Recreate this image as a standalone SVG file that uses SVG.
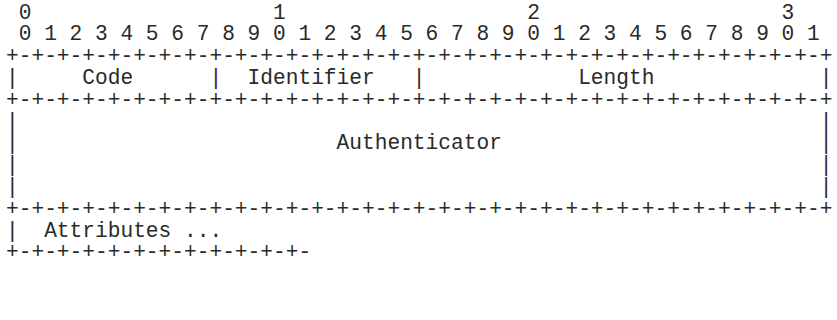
<svg xmlns="http://www.w3.org/2000/svg" width="837" height="320" viewBox="0 0 837 320">
<style>
  text { font-family: "Liberation Mono", "DejaVu Sans Mono", monospace; font-size: 21.2px; fill: #2a2a2a; white-space: pre; }
</style>
<rect width="837" height="320" fill="#ffffff"/>
<g id="bit-ruler">
  <text x="6" y="18.5" xml:space="preserve"> 0                   1                   2                   3</text>
  <text x="6" y="40.3" xml:space="preserve"> 0 1 2 3 4 5 6 7 8 9 0 1 2 3 4 5 6 7 8 9 0 1 2 3 4 5 6 7 8 9 0 1</text>
</g>
<g id="header-row">
  <text x="6" y="62.1" xml:space="preserve">+-+-+-+-+-+-+-+-+-+-+-+-+-+-+-+-+-+-+-+-+-+-+-+-+-+-+-+-+-+-+-+-+</text>
  <text x="6" y="83.9" xml:space="preserve">|     Code      |  Identifier   |            Length             |</text>
  <text x="6" y="105.7" xml:space="preserve">+-+-+-+-+-+-+-+-+-+-+-+-+-+-+-+-+-+-+-+-+-+-+-+-+-+-+-+-+-+-+-+-+</text>
</g>
<g id="authenticator">
  <text x="6" y="127.5" xml:space="preserve">|                                                               |</text>
  <text x="6" y="149.3" xml:space="preserve">|                         Authenticator                         |</text>
  <text x="6" y="171.1" xml:space="preserve">|                                                               |</text>
  <text x="6" y="192.9" xml:space="preserve">|                                                               |</text>
  <text x="6" y="214.7" xml:space="preserve">+-+-+-+-+-+-+-+-+-+-+-+-+-+-+-+-+-+-+-+-+-+-+-+-+-+-+-+-+-+-+-+-+</text>
</g>
<g id="attributes">
  <text x="6" y="236.5" xml:space="preserve">|  Attributes ...</text>
  <text x="6" y="258.3" xml:space="preserve">+-+-+-+-+-+-+-+-+-+-+-+-</text>
</g>
</svg>
